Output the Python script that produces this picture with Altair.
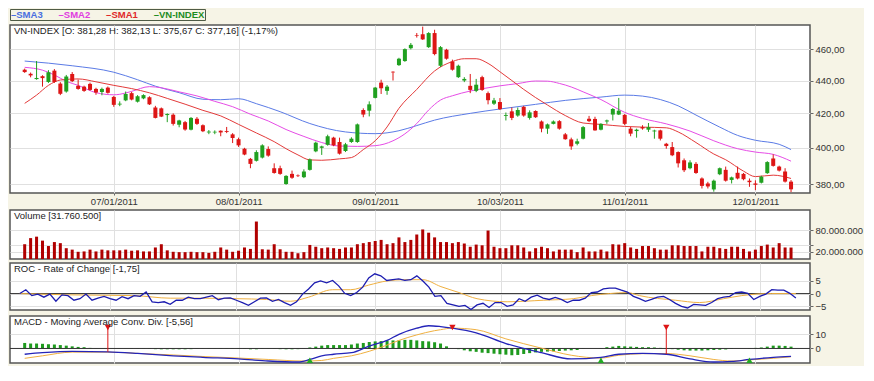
import altair as alt
import pandas as pd

# ---------------- text ----------------
legend_names = ["SMA3", "SMA2", "SMA1", "VN-INDEX"]
legend_colors = ["#4a6fe0", "#e03ce0", "#e02828", "#1e8c1e"]
main_title = ["VN-INDEX [O: 381,28  H: 382,13  L: 375,67  C: 377,16] (-1,17%)"]
vol_title = ["Volume [31.760.500]"]
roc_title = ["ROC - Rate of Change [-1,75]"]
macd_title = ["MACD - Moving Average Conv. Div. [-5,56]"]

date_tick_idx = [15, 36, 59, 80, 101, 123]
date_tick_lbl = ["07/01/2011", "08/01/2011", "09/01/2011", "10/03/2011", "11/01/2011", "12/01/2011"]
price_ticks = [380, 400, 420, 440, 460]
vol_ticks = [20000000, 40000000, 80000000]
roc_ticks = [-5, 0, 5]
macd_ticks = [0, 10]

# ---------------- prices (trading-day index 0..129) ----------------
open_ = [446.8, 444.2, 440.9, 442.7, 439.1, 446.2, 438.1, 433.2, 444.1, 436.7,
         436.2, 437.9, 434.8, 432.9, 435.6, 429.9, 425.3, 427.8, 432.2, 427.0,
         429.0, 429.7, 423.5, 423.0, 419.0, 419.2, 413.3, 414.8, 410.4, 416.8,
         413.0, 408.8, 408.8, 409.8, 409.6, 407.7, 404.9, 399.5, 393.8, 392.7,
         394.5, 399.3, 388.6, 388.6, 380.0, 385.5, 384.6, 383.7, 387.7, 398.0,
         400.0, 401.7, 405.8, 403.3, 398.2, 403.3, 403.3, 422.0, 421.6, 429.3,
         438.7, 433.6, 445.5, 449.7, 452.3, 460.6, 469.3, 469.8, 461.3, 470.6,
         449.3, 459.6, 452.0, 442.1, 440.0, 436.7, 433.6, 442.1, 432.2, 425.8,
         426.8, 418.5, 421.2, 418.7, 423.9, 417.3, 421.4, 415.2, 411.0, 413.8,
         415.4, 407.7, 404.8, 402.3, 405.2, 416.8, 416.7, 410.4, 415.2, 419.3,
         419.3, 419.1, 411.0, 409.6, 411.9, 410.4, 409.4, 410.0, 402.3, 400.4,
         397.6, 393.0, 388.6, 391.0, 383.0, 380.3, 377.1, 385.3, 387.7, 382.2,
         386.1, 385.5, 381.8, 380.3, 380.7, 385.9, 394.0, 389.5, 386.8, 381.28]
high = [447.5, 445.0, 452.3, 443.3, 446.5, 447.2, 439.0, 443.5, 445.3, 440.6,
        436.8, 438.7, 435.5, 435.6, 436.3, 430.5, 427.2, 433.2, 433.0, 431.0,
        431.5, 430.3, 424.5, 423.5, 420.0, 420.0, 416.2, 415.5, 417.8, 417.8,
        413.5, 410.2, 410.0, 410.0, 412.0, 408.4, 405.8, 400.0, 394.3, 398.6,
        402.0, 400.8, 391.3, 390.0, 384.8, 387.3, 385.2, 388.0, 394.0, 403.5,
        401.2, 407.5, 406.3, 405.8, 402.8, 406.0, 414.0, 423.0, 427.2, 436.0,
        440.5, 437.2, 445.8, 454.4, 460.5, 464.0, 470.6, 474.9, 471.2, 472.8,
        462.0, 460.2, 453.2, 450.0, 442.1, 444.1, 441.0, 443.0, 433.2, 429.3,
        429.2, 420.5, 423.5, 423.5, 424.5, 421.8, 421.8, 415.8, 414.0, 415.8,
        416.0, 408.5, 405.8, 405.2, 412.5, 418.5, 418.0, 414.2, 416.3, 423.2,
        429.3, 419.6, 412.0, 411.0, 413.0, 414.3, 410.4, 410.4, 402.8, 403.3,
        398.0, 394.0, 393.0, 392.0, 383.6, 381.2, 382.4, 389.0, 389.5, 384.0,
        389.5, 386.0, 383.0, 382.0, 384.5, 392.5, 396.3, 390.0, 388.6, 382.13]
low = [444.8, 442.0, 440.5, 436.2, 438.5, 438.5, 431.0, 432.5, 439.0, 434.3,
       433.0, 433.7, 431.2, 430.9, 431.9, 423.9, 424.3, 427.3, 427.8, 426.5,
       428.5, 425.0, 417.0, 417.8, 414.8, 412.8, 411.8, 409.8, 410.0, 413.2,
       409.0, 407.8, 407.8, 406.6, 408.4, 402.7, 400.5, 395.8, 388.6, 392.3,
       394.0, 395.0, 385.6, 385.0, 379.6, 382.8, 383.8, 383.2, 387.3, 397.5,
       396.0, 401.2, 400.9, 396.2, 397.6, 402.8, 402.8, 417.7, 418.2, 429.0,
       431.7, 431.2, 440.0, 449.2, 451.8, 459.8, 467.6, 466.0, 460.8, 456.0,
       448.5, 453.2, 446.2, 441.6, 439.0, 432.2, 432.8, 433.6, 425.4, 425.0,
       422.0, 415.8, 416.0, 418.0, 418.0, 416.3, 417.3, 408.9, 408.0, 413.5,
       410.4, 404.6, 398.9, 401.4, 404.8, 414.8, 409.8, 410.0, 413.8, 415.8,
       419.0, 413.0, 406.6, 405.8, 410.4, 409.1, 405.2, 404.2, 399.5, 395.3,
       389.0, 386.5, 388.0, 385.5, 377.6, 377.6, 375.9, 384.8, 381.3, 380.3,
       382.5, 382.0, 378.5, 376.7, 380.3, 385.5, 389.5, 386.8, 380.8, 375.67]
close = [445.3, 443.2, 441.6, 441.5, 445.2, 439.1, 431.8, 442.5, 439.6, 434.8,
         433.6, 434.2, 432.6, 434.8, 432.4, 425.1, 425.8, 431.7, 428.3, 430.3,
         431.0, 425.4, 417.3, 418.1, 419.6, 413.8, 415.8, 410.5, 417.3, 413.8,
         409.5, 409.3, 409.2, 408.8, 409.1, 405.6, 401.4, 396.2, 391.0, 397.6,
         401.4, 395.6, 386.0, 385.5, 384.4, 383.4, 384.3, 386.8, 393.5, 402.9,
         400.8, 406.6, 401.4, 396.7, 402.0, 405.2, 413.5, 419.3, 425.4, 435.6,
         435.2, 436.2, 445.1, 453.8, 460.0, 462.8, 468.9, 466.4, 470.6, 456.8,
         461.3, 453.8, 446.8, 449.3, 441.0, 434.2, 437.4, 434.2, 427.9, 427.8,
         422.5, 419.0, 417.3, 422.0, 418.7, 420.6, 417.7, 411.0, 413.5, 415.2,
         411.0, 404.9, 400.8, 403.7, 411.9, 415.4, 410.0, 413.8, 415.8, 422.6,
         421.6, 413.8, 408.1, 410.4, 411.1, 411.9, 409.9, 405.2, 401.0, 395.8,
         391.3, 387.5, 391.8, 386.0, 379.0, 378.7, 381.8, 388.6, 381.8, 383.6,
         383.0, 382.6, 381.0, 379.6, 384.0, 392.0, 389.9, 387.3, 381.3, 377.16]

# volume in millions
volume_m = [41, 58, 62, 51, 36, 47, 44, 30, 26, 20, 21, 26, 21, 26, 24, 24, 24, 26, 23, 24,
            21, 21, 32, 41, 24, 20, 19, 19, 20, 19, 19, 17, 20, 32, 26, 20, 23, 32, 28, 104,
            27, 26, 41, 27, 20, 20, 16, 19, 39, 34, 30, 32, 30, 28, 32, 32, 41, 44, 47, 50,
            53, 41, 44, 60, 47, 53, 68, 82, 73, 60, 47, 47, 44, 47, 43, 34, 40, 38, 79, 34,
            30, 30, 38, 38, 32, 21, 30, 34, 30, 21, 26, 26, 26, 19, 32, 21, 21, 26, 21, 41,
            40, 44, 32, 28, 36, 36, 30, 26, 26, 38, 38, 36, 36, 36, 21, 34, 34, 30, 28, 34,
            34, 28, 21, 26, 36, 40, 32, 44, 32, 31.76]

# moving averages (sampled trading-day index, value)
sma3_idx = [0, 8, 15, 19, 22, 26, 30, 33, 36, 39, 43, 48, 54, 59, 63, 66, 69, 75, 80, 86,
            91, 97, 101, 104, 107, 110, 113, 117, 120, 123, 127, 129]
sma3_val = [452.3, 449.3, 445.2, 440.5, 436.5, 432.5, 428.5, 428.2, 428.8, 425.8, 421.0, 414.0,
            409.1, 408.1, 409.8, 412.8, 416.0, 420.0, 422.6, 425.4, 427.8, 429.8, 431.0, 430.4,
            428.3, 424.5, 419.0, 411.9, 407.1, 404.3, 402.0, 399.0]
sma2_idx = [0, 3, 5, 7, 9, 12, 15, 16, 18, 21, 23, 26, 29, 32, 35, 38, 41, 44, 47, 50, 53,
            56, 59, 62, 64, 66, 68, 70, 72, 75, 78, 80, 83, 86, 88, 90, 92, 94, 97, 101, 104,
            108, 112, 116, 120, 123, 126, 129]
sma2_val = [448.3, 446.5, 443.5, 439.5, 437.0, 432.5, 431.2, 431.5, 433.3, 436.2, 435.5, 433.0,
            430.5, 427.2, 424.0, 419.5, 415.5, 410.5, 406.5, 403.0, 401.0, 400.8, 401.2, 404.0,
            408.0, 414.0, 422.0, 428.0, 430.6, 433.5, 435.5, 436.7, 438.1, 439.7, 439.6, 438.2,
            436.0, 433.0, 428.3, 420.6, 417.0, 413.8, 409.6, 404.0, 399.5, 397.6, 396.3, 392.5]
sma1_idx = [0, 2, 4, 6, 9, 12, 15, 18, 21, 24, 27, 30, 33, 36, 39, 42, 44, 46, 48, 50, 53,
            55, 57, 59, 61, 63, 66, 69, 72, 74, 76, 78, 80, 82, 84, 86, 88, 91, 94, 97, 101,
            104, 108, 110, 113, 116, 118, 121, 123, 126, 129]
sma1_val = [426.0, 431.0, 437.0, 440.3, 441.0, 439.2, 437.0, 435.0, 432.4, 429.0, 425.5, 421.8,
            418.5, 413.5, 408.5, 403.5, 399.5, 396.0, 393.2, 393.0, 393.8, 394.5, 399.0, 404.0,
            412.0, 423.0, 434.5, 446.0, 452.0, 453.8, 453.8, 450.8, 445.5, 440.0, 434.5, 429.5,
            425.0, 418.7, 414.3, 413.5, 412.3, 411.9, 411.5, 409.1, 403.0, 396.5, 393.3, 387.0,
            384.0, 384.8, 383.0]

# ROC
roc = [0, 1.5, -0.8, -0.2, -1.4, -0.2, -3, -0.5, -0.8, -2.6, -2, -0.2, -2.6, -1.8, -1.1, -2,
       -2.6, -1.2, -2, -0.8, -1.1, 0.6, -3.2, -3.5, -3.2, -4.2, -2.6, -2.6, -1.4, -2, -2, -1.4,
       -0.8, -2.4, -1.8, -1.7, -2.6, -3.5, -4.6, -3.2, -1.8, -1.7, -3, -2.3, -3.5, -4.6, -3.2,
       -0.2, 1.8, 4.2, 4.9, 4.2, 5.1, 3, 0.1, -0.8, 0.4, 2.5, 6.1, 7.7, 6.9, 5.1, 5.4, 5.7, 5.1,
       5.4, 6.9, 4.9, 2.5, -1.1, -0.8, -3.8, -4.4, -5, -4.6, -6.2, -4.4, -3.8, -5.4, -3.5, -3.5,
       -5, -4.4, -2, -3, -1.4, -0.6, -1.8, -2.3, -1.5, -2.3, -3.5, -2.6, -2.6, -1.8, 0.4, 0.6,
       1.8, 2.1, 2.1, 1.3, 0.6, -1.1, -2, -3, -2.3, -1.4, -1.1, -2.3, -3.8, -5, -5.6, -4.2, -4.4,
       -4.6, -3.5, -2, -1.4, -1.1, 0.4, 0.6, 0.1, -2.3, -1.1, -0.2, 1.5, 1.3, 1.3, 0.1, -1.75]
roc_sig_idx = [0, 8, 19, 25, 30, 36, 41, 45, 48, 52, 55, 58, 61, 64, 67, 70, 73, 76, 81, 87,
               92, 95, 98, 101, 103, 109, 113, 117, 120, 125, 129]
roc_sig_val = [0, -0.5, -0.8, -1.8, -1.8, -2.0, -2.3, -3.0, -1.4, 1.5, 1.5, 3.3, 4.9, 5.4, 5.4,
               2.7, 0.4, -2.0, -3.2, -2.6, -2.0, -0.8, 0, 0.4, -0.8, -2.6, -3.5, -2.0, -0.8, 0, 0]

# MACD
macd_idx = [0, 3, 8, 14, 19, 25, 30, 36, 41, 46, 48, 50, 52, 55, 58, 61, 63, 66, 68, 70, 72,
            76, 81, 87, 92, 97, 100, 104, 108, 112, 116, 119, 122, 126, 129]
macd_val = [-4.1, -3.0, -2.0, -2.4, -3.5, -5.2, -6.3, -7.4, -8.9, -9.6, -7.8, -5.2, -4.1, -3.0,
            1.7, 5.7, 10.0, 14.4, 16.1, 15.5, 14.4, 11.1, 3.5, -3.0, -7.4, -6.3, -4.1, -3.5, -4.1,
            -7.4, -9.6, -9.2, -7.8, -6.3, -5.56]
macd_sig_idx = [0, 3, 8, 14, 19, 25, 30, 36, 41, 47, 50, 52, 55, 58, 61, 63, 66, 69, 70, 72,
                76, 81, 87, 92, 97, 100, 104, 108, 112, 116, 119, 122, 126, 129]
macd_sig_val = [-7.0, -5.2, -2.6, -2.6, -3.5, -4.6, -5.7, -6.8, -7.8, -8.9, -8.5, -7.0, -5.2,
                -2.0, 2.4, 5.7, 9.6, 12.6, 13.3, 14.4, 13.3, 6.8, 0.2, -4.8, -6.8, -4.8, -3.7,
                -3.6, -5.2, -7.8, -8.9, -8.1, -7.0, -5.9]
macd_hist = [3.9, 3.5, 3.5, 3.3, 3.0, 2.8, 2.4, 2.0, 1.5, 1.1, 0.9, 0.4, 0.2, 0.1, 0, -0.1, -0.1,
             -0.1, -0.2, -0.2, -0.2, -0.3, -0.5, -0.6, -0.6, -0.6, -0.6, -0.6, -0.5, -0.3, -0.2,
             -0.2, -0.2, -0.2, -0.2, -0.2, -0.3, -0.4, -0.6, -0.6, -0.3, -0.2, -0.3, -0.5, -0.6,
             -0.6, -0.5, -0.2, 0.7, 1.3, 2.0, 2.4, 2.4, 2.4, 2.4, 2.8, 3.5, 3.9, 4.6, 5.0, 5.2,
             5.7, 5.7, 5.7, 6.1, 6.1, 5.7, 5.2, 5.0, 4.4, 3.5, 1.5, 0, -0.5, -1.3, -2.0, -2.4,
             -3.0, -3.3, -3.7, -4.1, -4.4, -4.8, -4.6, -3.9, -3.3, -2.8, -2.4, -2.2, -2.0, -1.8,
             -1.5, -1.3, -1.1, -0.4, 0, 0.1, 0.3, 0.9, 1.3, 1.8, 1.5, 1.3, 1.1, 0.9, 0.9, 0.7,
             0.4, 0, -0.5, -0.9, -1.3, -1.5, -1.5, -1.5, -1.3, -1.1, -0.9, -0.7, -0.4, 0, 0.1,
             0.2, 0.4, 0.7, 1.3, 2.0, 2.0, 1.8, 1.3]
sell_idx = [14, 72, 108]
sell_macd = [-2.4, 14.4, -4.1]
buy_idx = [48, 97, 122]
buy_macd = [-7.8, -6.3, -7.8]
sell_level = 14.8
buy_level = -8.3

# ---------------- styling ----------------
UP, DOWN = "#20a020", "#dd1515"
FONT = "Liberation Sans"
W = 800
xscale = alt.Scale(domain=[-1.63, 131.35], nice=False, zero=False)

lbl_expr = "".join(f"datum.value == {k} ? '{s}' : " for k, s in zip(date_tick_idx, date_tick_lbl)) + "''"
x_axis_main = alt.Axis(values=date_tick_idx, labelExpr=lbl_expr, grid=True, domain=False,
                       tickSize=2, labelPadding=1, title=None, labelFlush=False)
x_axis_low = alt.Axis(values=date_tick_idx, labels=False, ticks=False, domain=False, grid=True, title=None)

N = len(close)
df = pd.DataFrame({
    "i": list(range(N)), "open": open_, "high": high, "low": low, "close": close,
    "vol": [v * 1e6 for v in volume_m], "roc": roc, "hist": macd_hist,
})
df["col"] = [UP if c >= o else DOWN for o, c in zip(open_, close)]


def X(axis):
    return alt.X("i:Q", scale=xscale, axis=axis)


def title_layer(t):
    return alt.Chart(pd.DataFrame({"t": t})).mark_text(
        align="left", baseline="top", font=FONT, fontSize=9.5, color="#222"
    ).encode(text="t:N", x=alt.value(4), y=alt.value(1))


# ---------------- legend ----------------
leg_df = pd.DataFrame({"pos": list(range(len(legend_names))),
                       "label": ["\u2013" + n for n in legend_names],
                       "col": legend_colors})
legend = alt.Chart(leg_df).mark_text(
    align="left", baseline="middle", font=FONT, fontSize=9.5, fontWeight="bold", dx=1
).encode(
    x=alt.X("pos:Q", scale=alt.Scale(domain=[0, 4.1], nice=False, zero=True), axis=None),
    y=alt.value(6),
    text="label:N",
    color=alt.Color("col:N", scale=None),
).properties(width=195, height=11, view=alt.ViewBackground(stroke="#4f5b45", strokeWidth=1, fill=None))

# ---------------- main panel ----------------
ysc = alt.Scale(type="log", domain=[375.2, 476], nice=False, zero=False)
yax = alt.Axis(orient="right", values=price_ticks, title=None, domain=False, tickSize=3,
               labelExpr="replace(format(datum.value, '.2f'), '.', ',')")


def sma_layer(ix, vals, color):
    return alt.Chart(pd.DataFrame({"i": ix, "v": vals})).mark_line(
        color=color, strokeWidth=1, interpolate="monotone"
    ).encode(x=X(x_axis_main), y=alt.Y("v:Q", scale=ysc, axis=yax))


base = alt.Chart(df)
wick = base.mark_rule(strokeWidth=1).encode(
    x=X(x_axis_main), y=alt.Y("low:Q", scale=ysc, axis=yax), y2="high:Q",
    color=alt.Color("col:N", scale=None))
body = base.mark_bar(size=4).encode(
    x=X(x_axis_main), y=alt.Y("open:Q", scale=ysc, axis=yax), y2="close:Q",
    color=alt.Color("col:N", scale=None))

main = alt.layer(
    sma_layer(sma3_idx, sma3_val, "#5b7be6"),
    sma_layer(sma2_idx, sma2_val, "#e64ce6"),
    sma_layer(sma1_idx, sma1_val, "#e33a3a"),
    wick, body, title_layer(main_title),
).properties(width=W, height=168)

# ---------------- volume ----------------
vax = alt.Axis(orient="right", values=vol_ticks, title=None, domain=False, tickSize=3,
               labelExpr="replace(format(datum.value, ',.0f'), regexp(',', 'g'), '.')")
vol = alt.layer(
    base.mark_bar(size=3, color="#b00000").encode(
        x=X(x_axis_low), y=alt.Y("vol:Q", scale=alt.Scale(domain=[0, 136e6], nice=False), axis=vax)),
    title_layer(vol_title),
).properties(width=W, height=49)

# ---------------- ROC ----------------
rsc = alt.Scale(domain=[-6.4, 11.9], nice=False, zero=False)
rax = alt.Axis(orient="right", values=roc_ticks, title=None, domain=False, tickSize=3)
zero_df = pd.DataFrame({"z": [0]})
roc_chart = alt.layer(
    alt.Chart(zero_df).mark_rule(color="#333", strokeWidth=1).encode(y=alt.Y("z:Q", scale=rsc, axis=rax)),
    alt.Chart(pd.DataFrame({"i": roc_sig_idx, "v": roc_sig_val})).mark_line(
        color="#f0b040", strokeWidth=1, interpolate="monotone").encode(
        x=X(x_axis_low), y=alt.Y("v:Q", scale=rsc, axis=rax)),
    base.mark_line(color="#1c1cb0", strokeWidth=1.3).encode(
        x=X(x_axis_low), y=alt.Y("roc:Q", scale=rsc, axis=rax)),
    title_layer(roc_title),
).properties(width=W, height=47)

# ---------------- MACD ----------------
msc = alt.Scale(domain=[-10.3, 23], nice=False, zero=False)
max_ = alt.Axis(orient="right", values=macd_ticks, title=None, domain=False, tickSize=3)
sell_df = pd.DataFrame({"i": sell_idx, "m": sell_macd, "lvl": [sell_level] * len(sell_idx)})
buy_df = pd.DataFrame({"i": buy_idx, "m": buy_macd, "lvl": [buy_level] * len(buy_idx)})
macd_chart = alt.layer(
    base.mark_bar(size=3, color="#1e9a1e").encode(
        x=X(x_axis_low), y=alt.Y("hist:Q", scale=msc, axis=max_), y2=alt.datum(0)),
    alt.Chart(zero_df).mark_rule(color="#333", strokeWidth=1).encode(y=alt.Y("z:Q", scale=msc, axis=max_)),
    alt.Chart(pd.DataFrame({"i": macd_sig_idx, "v": macd_sig_val})).mark_line(
        color="#f0b040", strokeWidth=1, interpolate="monotone").encode(
        x=X(x_axis_low), y=alt.Y("v:Q", scale=msc, axis=max_)),
    alt.Chart(pd.DataFrame({"i": macd_idx, "v": macd_val})).mark_line(
        color="#2424b8", strokeWidth=1.3, interpolate="monotone").encode(
        x=X(x_axis_low), y=alt.Y("v:Q", scale=msc, axis=max_)),
    alt.Chart(sell_df).mark_rule(color="#dd1515", strokeWidth=1).encode(
        x=X(x_axis_low), y=alt.Y("lvl:Q", scale=msc, axis=max_), y2="m:Q"),
    alt.Chart(sell_df).mark_point(shape="triangle-down", filled=True, size=40, color="#dd1515", opacity=1).encode(
        x=X(x_axis_low), y=alt.Y("lvl:Q", scale=msc, axis=max_)),
    alt.Chart(buy_df).mark_point(shape="triangle-up", filled=True, size=40, color="#22aa22", opacity=1).encode(
        x=X(x_axis_low), y=alt.Y("lvl:Q", scale=msc, axis=max_)),
    title_layer(macd_title),
).properties(width=W, height=47)

top = alt.vconcat(legend, main, spacing=3)
chart = alt.vconcat(top, vol, roc_chart, macd_chart, spacing=2).properties(
    padding={"left": 0, "top": 0, "right": 0, "bottom": 0},
    background="#f6f4e6",
).configure_view(
    stroke="#555555", strokeWidth=1.5, fill="white"
).configure_axis(
    labelFont=FONT, labelFontSize=9.5, labelColor="#333333", gridColor="#e0e0e0",
    gridWidth=1, tickColor="#666666", labelPadding=2
)

chart.save("out.html", embed_options={"renderer": "svg", "actions": False})
